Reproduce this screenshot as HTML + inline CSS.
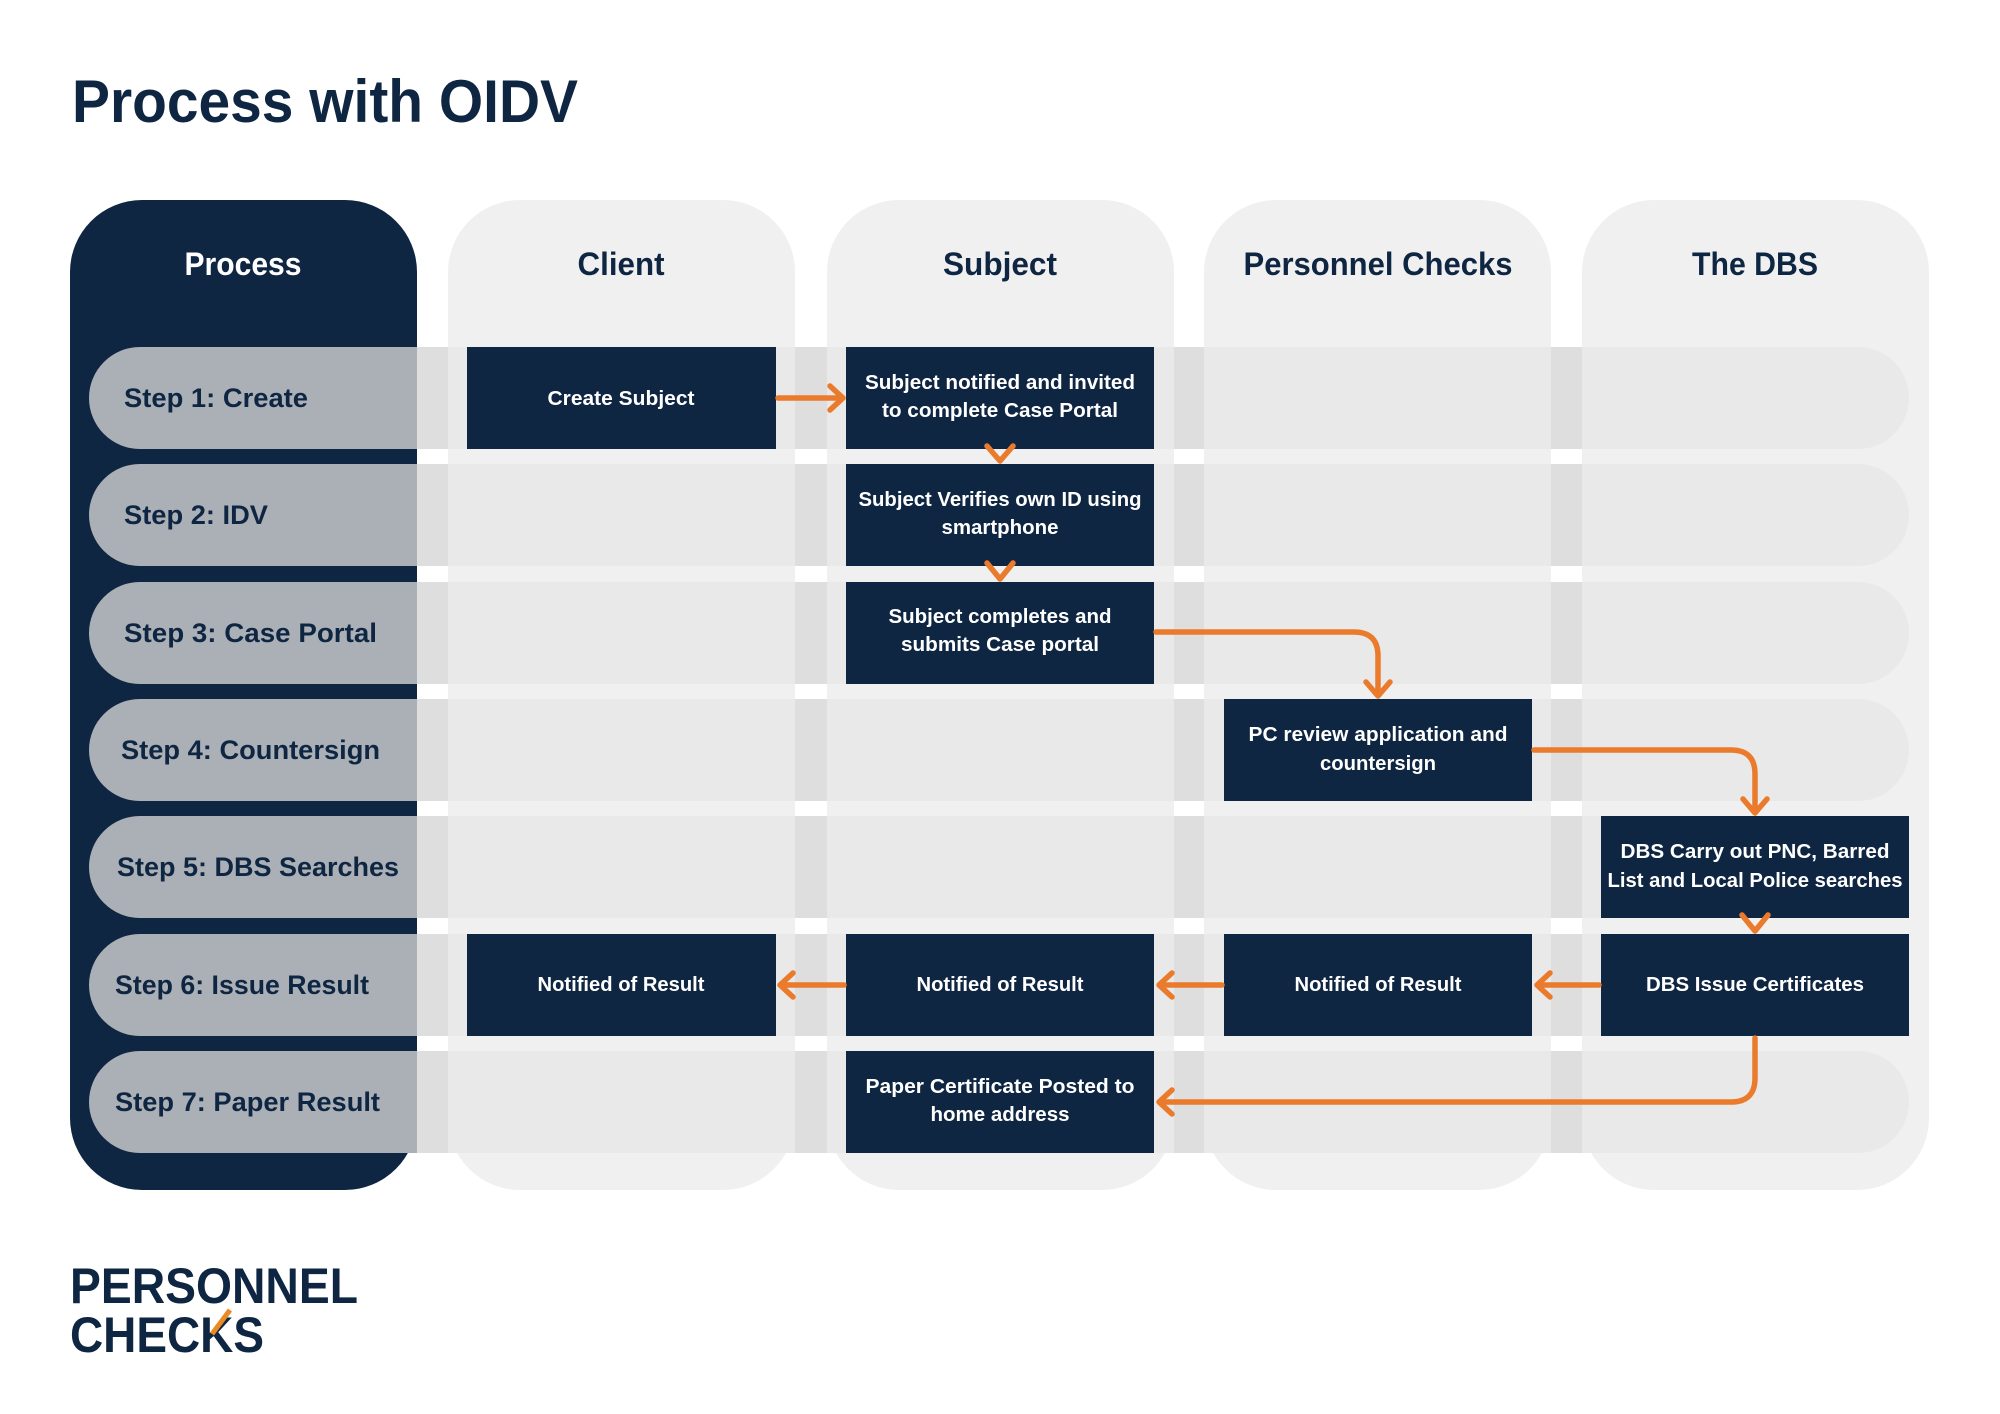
<!DOCTYPE html>
<html><head><meta charset="utf-8"><style>
html,body{margin:0;padding:0;background:#fff;}
svg{display:block;}
text{font-family:"Liberation Sans",sans-serif;font-weight:bold;}
</style></head><body>
<svg width="2000" height="1414" viewBox="0 0 2000 1414" xmlns="http://www.w3.org/2000/svg">
<rect width="2000" height="1414" fill="#fff"/>
<text x="72" y="122" font-size="60" fill="#0f2642" textLength="506" lengthAdjust="spacingAndGlyphs">Process with OIDV</text>

<!-- columns -->
<rect x="70" y="200" width="347" height="990" rx="72" fill="#0f2642"/>
<rect x="448" y="200" width="347" height="990" rx="72" fill="#f0f0f0"/>
<rect x="827" y="200" width="347" height="990" rx="72" fill="#f0f0f0"/>
<rect x="1204" y="200" width="347" height="990" rx="72" fill="#f0f0f0"/>
<rect x="1582" y="200" width="347" height="990" rx="72" fill="#f0f0f0"/>

<!-- headers -->
<g font-size="32" text-anchor="middle">
<text x="243" y="275" fill="#fff" textLength="117" lengthAdjust="spacingAndGlyphs">Process</text>
<text x="621" y="275" fill="#0f2642" textLength="87" lengthAdjust="spacingAndGlyphs">Client</text>
<text x="1000" y="275" fill="#0f2642" textLength="114" lengthAdjust="spacingAndGlyphs">Subject</text>
<text x="1378" y="275" fill="#0f2642" textLength="269" lengthAdjust="spacingAndGlyphs">Personnel Checks</text>
<text x="1755" y="275" fill="#0f2642" textLength="126" lengthAdjust="spacingAndGlyphs">The DBS</text>
</g>

<!-- row bands -->
<defs>
<g id="band">
<path d="M417 0 H1858 A51 51 0 0 1 1909 51 A51 51 0 0 1 1858 102 H417 Z" fill="#e9e9e9"/>
<rect x="417" y="0" width="31" height="102" fill="#dedede"/>
<rect x="795" y="0" width="32" height="102" fill="#dedede"/>
<rect x="1174" y="0" width="30" height="102" fill="#dedede"/>
<rect x="1551" y="0" width="31" height="102" fill="#dedede"/>
<path d="M140 0 H417 V102 H140 A51 51 0 0 1 140 0 Z" fill="#abb0b7"/>
</g>
</defs>
<use href="#band" y="347"/>
<use href="#band" y="464"/>
<use href="#band" y="582"/>
<use href="#band" y="699"/>
<use href="#band" y="816"/>
<use href="#band" y="934"/>
<use href="#band" y="1051"/>

<g font-size="27" fill="#0f2642">
<text x="124" y="407" textLength="184" lengthAdjust="spacingAndGlyphs">Step 1: Create</text>
<text x="124" y="524" textLength="144" lengthAdjust="spacingAndGlyphs">Step 2: IDV</text>
<text x="124" y="642" textLength="253" lengthAdjust="spacingAndGlyphs">Step 3: Case Portal</text>
<text x="121" y="759" textLength="259" lengthAdjust="spacingAndGlyphs">Step 4: Countersign</text>
<text x="117" y="876" textLength="282" lengthAdjust="spacingAndGlyphs">Step 5: DBS Searches</text>
<text x="115" y="994" textLength="254" lengthAdjust="spacingAndGlyphs">Step 6: Issue Result</text>
<text x="115" y="1111" textLength="265" lengthAdjust="spacingAndGlyphs">Step 7: Paper Result</text>
</g>

<!-- boxes -->
<g fill="#0f2643">
<rect x="467" y="347" width="309" height="102"/>
<rect x="846" y="347" width="308" height="102"/>
<rect x="846" y="464" width="308" height="102"/>
<rect x="846" y="582" width="308" height="102"/>
<rect x="1224" y="699" width="308" height="102"/>
<rect x="1601" y="816" width="308" height="102"/>
<rect x="467" y="934" width="309" height="102"/>
<rect x="846" y="934" width="308" height="102"/>
<rect x="1224" y="934" width="308" height="102"/>
<rect x="1601" y="934" width="308" height="102"/>
<rect x="846" y="1051" width="308" height="102"/>
</g>

<g font-size="20" fill="#fff" text-anchor="middle">
<text x="621" y="405" textLength="147" lengthAdjust="spacingAndGlyphs">Create Subject</text>
<text x="1000" y="389" textLength="270" lengthAdjust="spacingAndGlyphs">Subject notified and invited</text>
<text x="1000" y="417" textLength="236" lengthAdjust="spacingAndGlyphs">to complete Case Portal</text>
<text x="1000" y="506" textLength="283" lengthAdjust="spacingAndGlyphs">Subject Verifies own ID using</text>
<text x="1000" y="534" textLength="117" lengthAdjust="spacingAndGlyphs">smartphone</text>
<text x="1000" y="623" textLength="223" lengthAdjust="spacingAndGlyphs">Subject completes and</text>
<text x="1000" y="651" textLength="198" lengthAdjust="spacingAndGlyphs">submits Case portal</text>
<text x="1378" y="741" textLength="259" lengthAdjust="spacingAndGlyphs">PC review application and</text>
<text x="1378" y="770" textLength="116" lengthAdjust="spacingAndGlyphs">countersign</text>
<text x="1755" y="858" textLength="269" lengthAdjust="spacingAndGlyphs">DBS Carry out PNC, Barred</text>
<text x="1755" y="887" textLength="295" lengthAdjust="spacingAndGlyphs">List and Local Police searches</text>
<text x="621" y="991" textLength="167" lengthAdjust="spacingAndGlyphs">Notified of Result</text>
<text x="1000" y="991" textLength="167" lengthAdjust="spacingAndGlyphs">Notified of Result</text>
<text x="1378" y="991" textLength="167" lengthAdjust="spacingAndGlyphs">Notified of Result</text>
<text x="1755" y="991" textLength="218" lengthAdjust="spacingAndGlyphs">DBS Issue Certificates</text>
<text x="1000" y="1093" textLength="269" lengthAdjust="spacingAndGlyphs">Paper Certificate Posted to</text>
<text x="1000" y="1121" textLength="139" lengthAdjust="spacingAndGlyphs">home address</text>
</g>

<!-- arrows -->
<g fill="none" stroke="#ea7a2c" stroke-width="5.5" stroke-linecap="round" stroke-linejoin="round">
<path d="M778 398 H842"/><path d="M830 386 L843 398 L830 410"/>
<path d="M987 446 L1000 461 L1013 446"/>
<path d="M987 563 L1000 579 L1013 563"/>
<path d="M1156 632 H1354 Q1378 632 1378 656 V695"/><path d="M1366 682 L1378 696 L1390 682"/>
<path d="M1534 750 H1731 Q1755 750 1755 774 V812"/><path d="M1743 799 L1755 813 L1767 799"/>
<path d="M1742 915 L1755 931 L1768 915"/>
<path d="M1599 985 H1538"/><path d="M1550 973 L1537 985 L1550 997"/>
<path d="M1222 985 H1160"/><path d="M1172 973 L1159 985 L1172 997"/>
<path d="M844 985 H781"/><path d="M793 973 L780 985 L793 997"/>
<path d="M1755 1038 V1078 Q1755 1102 1731 1102 H1160"/><path d="M1172 1090 L1159 1102 L1172 1114"/>
</g>

<!-- logo -->
<text x="70" y="1303" font-size="50" fill="#0f2642" style="font-weight:bold" textLength="288" lengthAdjust="spacingAndGlyphs">PERSONNEL</text>
<text x="70" y="1352" font-size="50" fill="#0f2642" style="font-weight:bold" textLength="194" lengthAdjust="spacingAndGlyphs">CHECKS</text>
<path d="M212 1334 L230 1310" stroke="#ea8a25" stroke-width="5" fill="none"/>
</svg>
</body></html>
